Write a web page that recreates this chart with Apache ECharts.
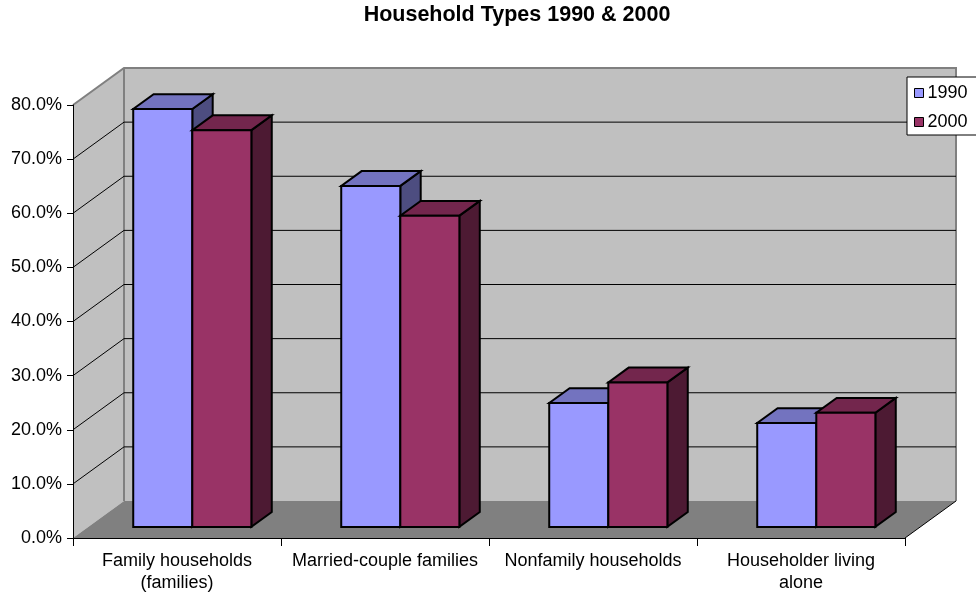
<!DOCTYPE html>
<html><head><meta charset="utf-8">
<script src="https://cdn.jsdelivr.net/npm/echarts@6/dist/echarts.min.js"></script>
<style>html,body{margin:0;padding:0;background:#fff}#c{width:976px;height:598px}</style>
</head><body><div id="c"></div>
<script>
// ---- data ----
const titleText = 'Household Types 1990 & 2000';
const categories = ['Family households\n(families)', 'Married-couple families', 'Nonfamily households', 'Householder living\nalone'];
const seriesNames = ['1990', '2000'];
const values1990 = [77.2, 63.0, 22.9, 19.2];
const values2000 = [73.3, 57.5, 26.7, 21.1];
const yTicks = [0, 10, 20, 30, 40, 50, 60, 70, 80];

// ---- style ----
const FONT = '"Liberation Sans", Arial, sans-serif';
const DX = 51, DY = 37;            // 3D depth projection (px)
const BAR_FRONT = 0.3, BAR_BACK = 0.7;
const BAR_RATIO = 0.284;
const colors = ['#9999ff', '#993366'];

function shade(hex, k) {
  const n = parseInt(hex.slice(1), 16);
  const r = Math.round(((n >> 16) & 255) * k), g = Math.round(((n >> 8) & 255) * k), b = Math.round((n & 255) * k);
  return 'rgb(' + r + ',' + g + ',' + b + ')';
}

function barRender(c, slot) {
  return function (params, api) {
    const ci = api.value(0), v = api.value(1);
    const p0 = api.coord([ci, 0]);
    const p1 = api.coord([ci, v]);
    const band = api.size([1, 0])[0];
    const w = band * BAR_RATIO;
    const x0 = p0[0] + slot * w + BAR_FRONT * DX;
    const x1 = x0 + w;
    const yb = p0[1] - BAR_FRONT * DY;
    const yt = p1[1] - BAR_FRONT * DY;
    const ddx = (BAR_BACK - BAR_FRONT) * DX, ddy = (BAR_BACK - BAR_FRONT) * DY;
    const st = { stroke: '#000', lineWidth: 2, lineJoin: 'miter' };
    return { type: 'group', children: [
      { type: 'polygon', shape: { points: [[x1, yt], [x1 + ddx, yt - ddy], [x1 + ddx, yb - ddy], [x1, yb]] }, style: Object.assign({ fill: shade(c, 0.5) }, st) },
      { type: 'polygon', shape: { points: [[x0, yt], [x1, yt], [x1 + ddx, yt - ddy], [x0 + ddx, yt - ddy]] }, style: Object.assign({ fill: shade(c, 0.75) }, st) },
      { type: 'rect', shape: { x: x0, y: yt, width: w, height: yb - yt }, style: Object.assign({ fill: c }, st) }
    ] };
  };
}

function wallsRender(params, api) {
  const cs = params.coordSys;
  const L = cs.x, R = cs.x + cs.width, T = cs.y, B = cs.y + cs.height;
  return { type: 'group', children: [
    { type: 'polygon', shape: { points: [[L, T], [L + DX, T - DY], [L + DX, B - DY], [L, B]] }, style: { fill: '#c0c0c0' } },
    { type: 'rect', shape: { x: L + DX, y: T - DY, width: R - L, height: B - T }, style: { fill: '#c0c0c0' } },
    { type: 'polygon', shape: { points: [[L, B], [R, B], [R + DX, B - DY], [L + DX, B - DY]] }, style: { fill: '#808080' } },
    { type: 'polyline', shape: { points: [[L, T], [L + DX, T - DY], [R + DX, T - DY], [R + DX, B - DY]] }, style: { stroke: '#808080', lineWidth: 2, fill: null } },
    { type: 'line', shape: { x1: L + DX, y1: T - DY, x2: L + DX, y2: B - DY }, style: { stroke: '#808080', lineWidth: 2 } },
    { type: 'line', shape: { x1: R, y1: B, x2: R + DX, y2: B - DY }, style: { stroke: '#000', lineWidth: 1 } }
  ] };
}

function gridRender(params, api) {
  const cs = params.coordSys;
  const L = cs.x, R = cs.x + cs.width;
  const p = api.coord([0, api.value(1)]);
  const y = p[1];
  return { type: 'polyline', shape: { points: [[L, y], [L + DX, y - DY], [R + DX, y - DY]] }, style: { stroke: '#000', lineWidth: 1, fill: null } };
}

const chart = echarts.init(document.getElementById('c'), null, { renderer: 'canvas' });
chart.setOption({
  animation: false,
  backgroundColor: '#fff',
  graphic: [{
    type: 'text', x: 517, y: 15, z: 10,
    style: { text: titleText, fontFamily: FONT, fontSize: 21.5, fontWeight: 'bold', fill: '#000', align: 'center', verticalAlign: 'middle' }
  }],
  grid: { left: 73, right: 71, top: 105, bottom: 60, containLabel: false, outerBoundsMode: 'none' },
  legend: {
    data: seriesNames.map(n => ({ name: n, icon: 'rect' })),
    orient: 'vertical', left: 907, top: 77,
    padding: [7, 30, 4, 7], itemWidth: 9, itemHeight: 9, itemGap: 11,
    borderColor: '#000', borderWidth: 1, backgroundColor: '#fff',
    itemStyle: { borderColor: '#000', borderWidth: 1 },
    textStyle: { fontFamily: FONT, fontSize: 18, color: '#000', padding: [0, 0, 0, -1] },
    selectedMode: false, z: 20
  },
  xAxis: {
    type: 'category', data: categories, boundaryGap: true, z: 5,
    axisLine: { show: true, lineStyle: { color: '#000', width: 1 } },
    axisTick: { show: true, length: 8, lineStyle: { color: '#000' } },
    axisLabel: { interval: 0, margin: 12, fontFamily: FONT, fontSize: 18, lineHeight: 22, color: '#000' },
    splitLine: { show: false }
  },
  yAxis: {
    type: 'value', min: 0, max: 80, interval: 10, z: 5,
    axisLine: { show: true, lineStyle: { color: '#000', width: 1 } },
    axisTick: { show: true, length: 6, lineStyle: { color: '#000' } },
    axisLabel: { margin: 11, fontFamily: FONT, fontSize: 18, color: '#000', formatter: v => v.toFixed(1) + '%' },
    splitLine: { show: false }
  },
  series: [
    { type: 'custom', name: 'walls', z: 1, silent: true, renderItem: wallsRender, data: [[0, 0]], clip: false },
    { type: 'custom', name: 'gridlines', z: 1, silent: true, renderItem: gridRender,
      data: yTicks.filter(t => t > 0 && t < yTicks[yTicks.length - 1]).map(t => [0, t]), clip: false },
    { type: 'custom', name: seriesNames[0], z: 2, renderItem: barRender(colors[0], -1),
      itemStyle: { color: colors[0] }, data: values1990.map((v, i) => [i, v]), clip: false },
    { type: 'custom', name: seriesNames[1], z: 2, renderItem: barRender(colors[1], 0),
      itemStyle: { color: colors[1] }, data: values2000.map((v, i) => [i, v]), clip: false }
  ]
});
</script>
</body></html>
